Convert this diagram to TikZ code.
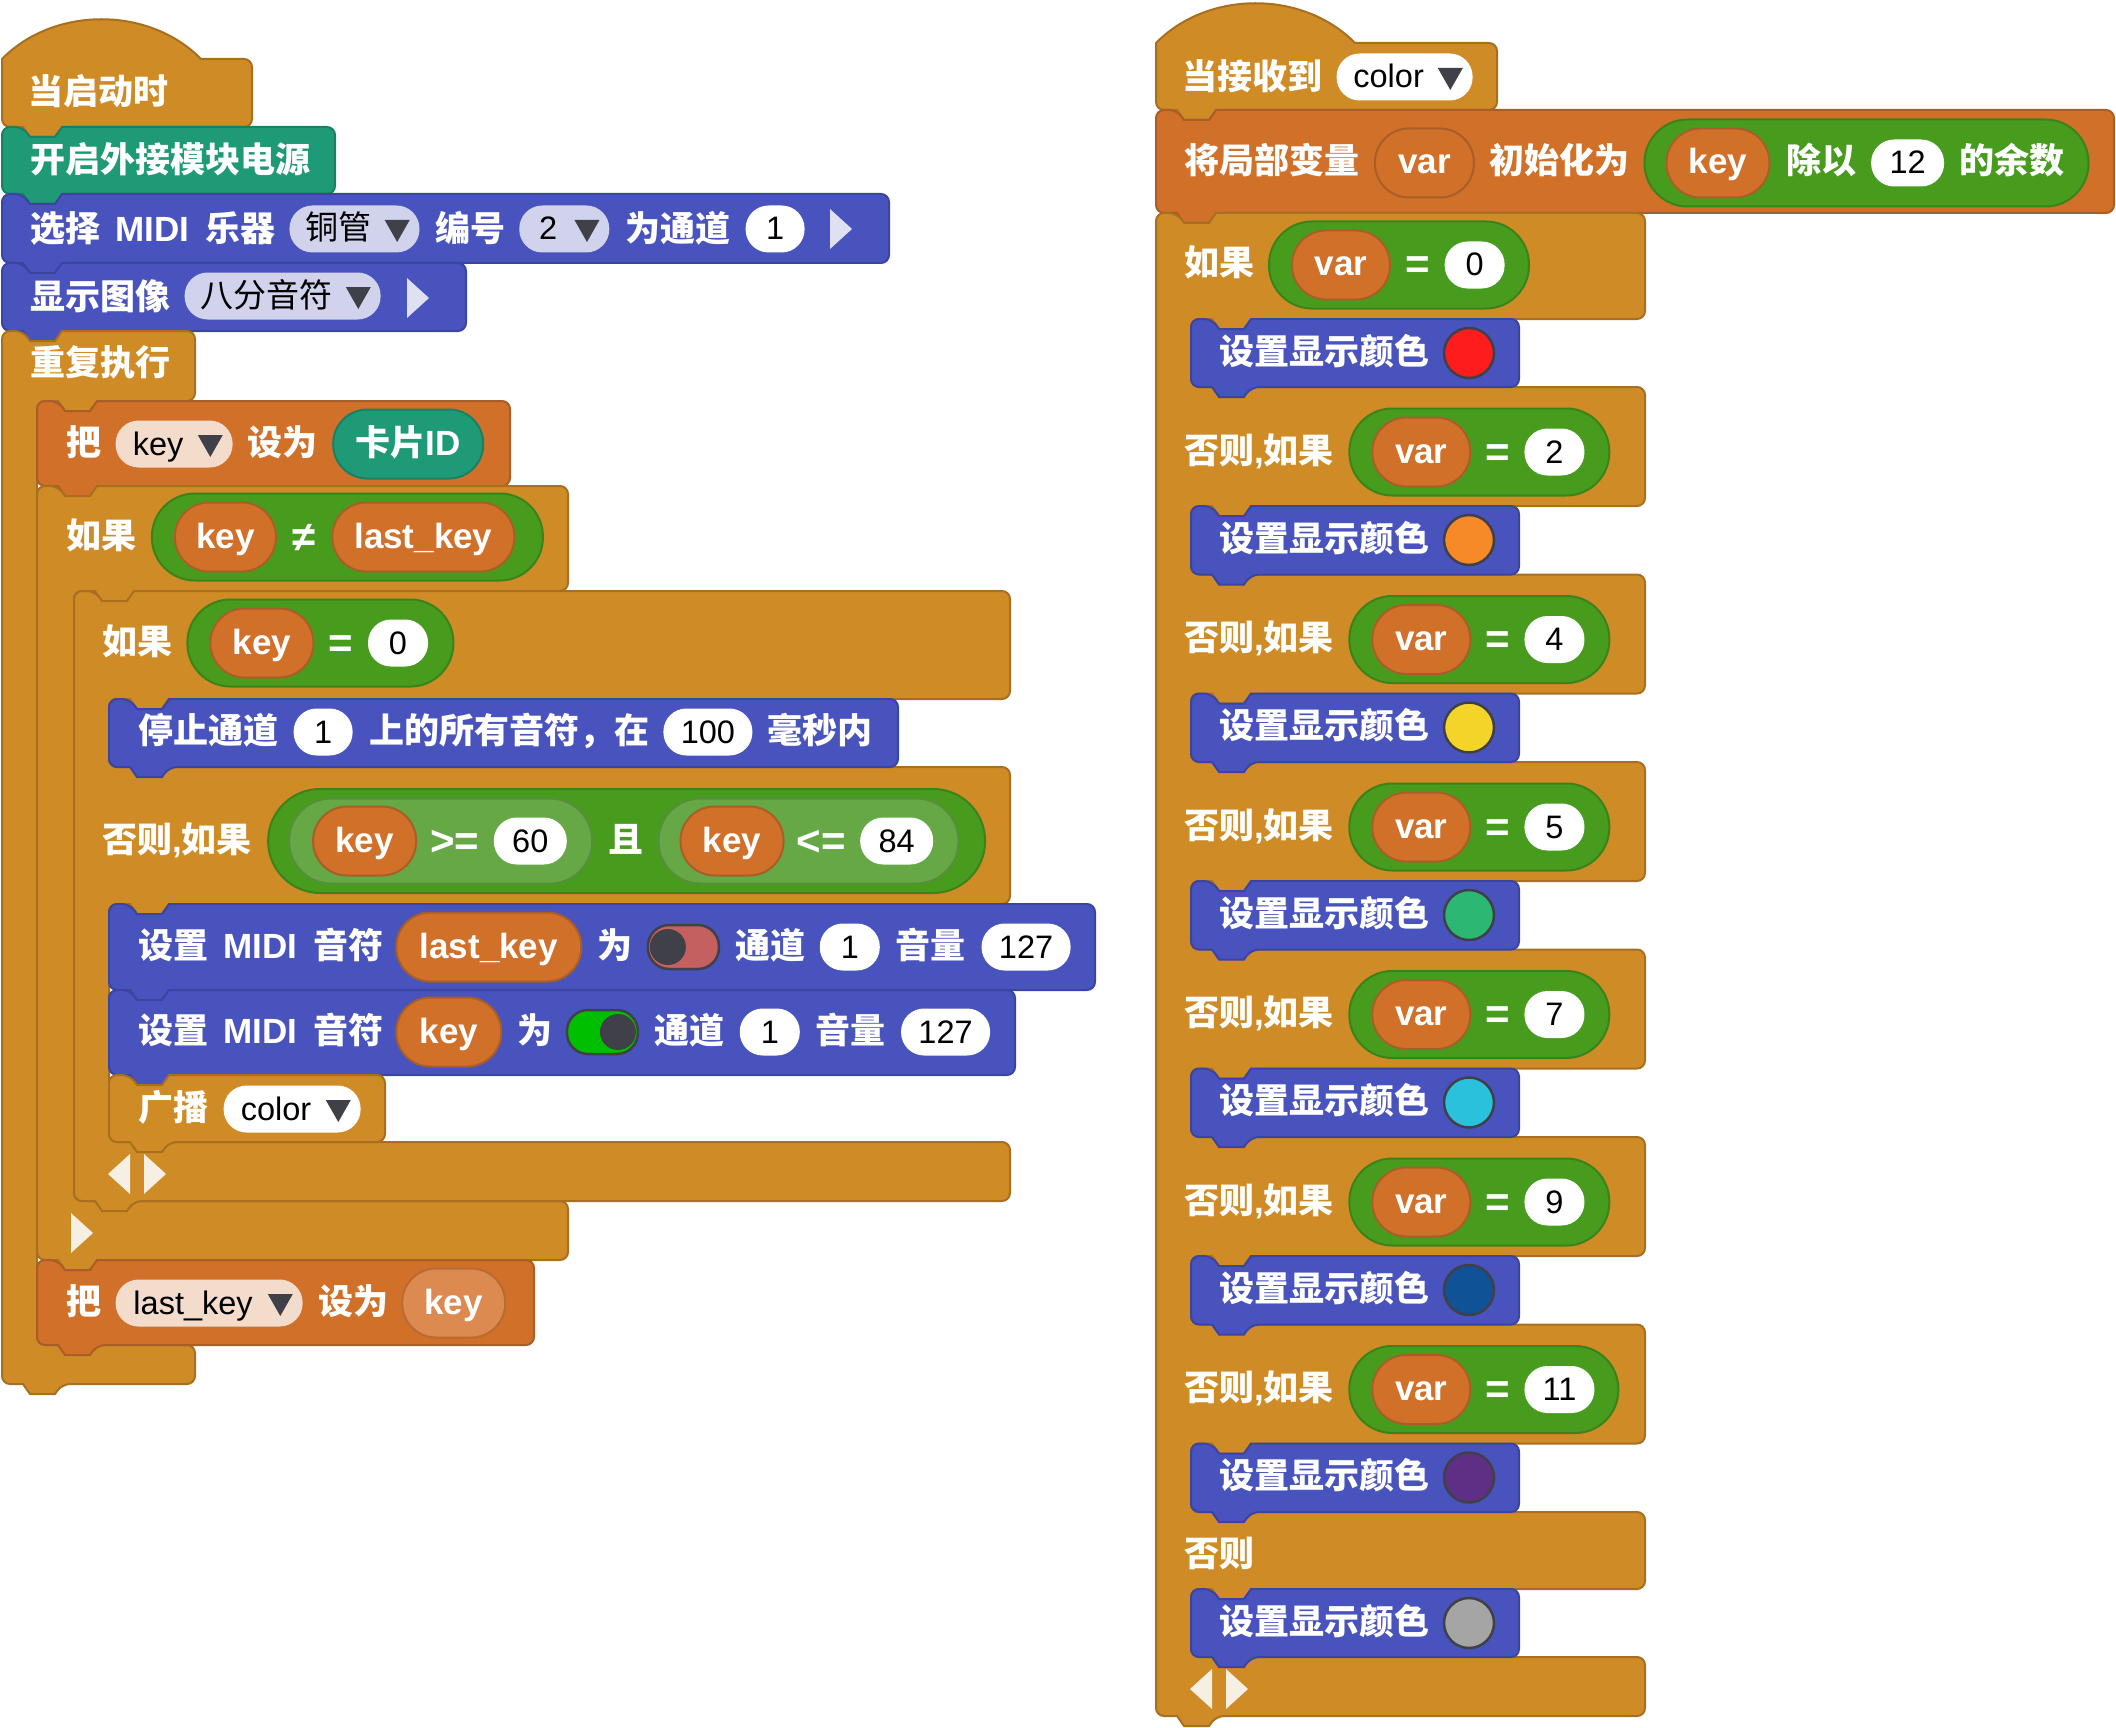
\documentclass[tikz,border=0pt]{standalone}
\usepackage{fontspec}
\usepackage{xcolor}
\usetikzlibrary{positioning}
\setmainfont{Liberation Sans}
\newfontfamily\cjkfont{Noto Sans CJK SC}

\definecolor{ctrlfill}{HTML}{CF8B25}
\definecolor{ctrlline}{HTML}{A96F20}
\definecolor{bluefill}{HTML}{4853BD}
\definecolor{blueline}{HTML}{3B44A0}
\definecolor{tealfill}{HTML}{1F9A77}
\definecolor{tealline}{HTML}{1A8065}
\definecolor{orgfill}{HTML}{D17029}
\definecolor{orgline}{HTML}{A85E26}
\definecolor{orgpale}{HTML}{DC8A4F}
\definecolor{boolfill}{HTML}{479C1E}
\definecolor{boolline}{HTML}{3C821A}
\definecolor{boolpale}{HTML}{65A845}
\definecolor{ddblue}{HTML}{D1D3EC}
\definecolor{ddorg}{HTML}{F4DCCC}
\definecolor{chevctrl}{HTML}{F6EFE3}
\definecolor{chevblue}{HTML}{DFE1F3}
\definecolor{darkpart}{HTML}{404048}
\definecolor{togoff}{HTML}{C46060}
\definecolor{togon}{HTML}{00BF00}
\definecolor{dotred}{HTML}{FF1C1C}
\definecolor{dotorange}{HTML}{F58A27}
\definecolor{dotyellow}{HTML}{F5D42A}
\definecolor{dotgreen}{HTML}{2CB872}
\definecolor{dotcyan}{HTML}{29C1DC}
\definecolor{dotblue}{HTML}{0F5296}
\definecolor{dotpurple}{HTML}{5F2F86}
\definecolor{dotgray}{HTML}{A5A5A5}

\newcommand{\boldfont}{\fontsize{35}{36}\selectfont\bfseries}
\newcommand{\regfont}{\fontsize{32.5}{36}\selectfont}
\newcommand{\lat}[1]{{\rmfamily #1}}
\newcommand{\midi}{\hspace{15.5pt}\lat{MIDI}\hspace{15.5pt}}
\newcommand{\ddgap}{\kern32pt\relax}

\newcommand{\topnotch}[2]{-- ({#1+21},#2) [sharp corners] -- ({#1+28},{#2+10}) -- ({#1+53},{#2+10}) -- ({#1+60},#2) [rounded corners=8pt]}
\newcommand{\botnotch}[2]{-- ({#1+60},#2) [sharp corners] -- ({#1+53},{#2+10}) -- ({#1+28},{#2+10}) -- ({#1+21},#2) [rounded corners=8pt]}
\newcommand{\armdown}[3]{-- (#1,#3) \botnotch{#2}{#3} -- (#2,#3)}
\newcommand{\armnext}[3]{-- (#2,#3) -- (#1,#3)}
\newcommand{\plainblock}[5]{\draw[#1] (#2,{#4+20}) [rounded corners=8pt] -- (#2,#4) \topnotch{#2}{#4} -- (#3,#4) -- (#3,#5) \botnotch{#2}{#5} -- (#2,#5) -- cycle;}
\newcommand{\hatblock}[5]{\draw[#1] (#2,#4) .. controls ({#2+52},{#4-53}) and ({#2+147},{#4-53}) .. ({#2+199},#4) [rounded corners=8pt] -- (#3,#4) -- (#3,#5) \botnotch{#2}{#5} -- (#2,#5) -- (#2,{#5-20}) [sharp corners] -- cycle;}
\newcommand{\ddtri}[2]{\fill[#1,shift={(#2.east)}] (-35,-9) -- (-10,-9) -- (-22.5,13) -- cycle;}
\newcommand{\chevr}[3]{\fill[#1] (#2,{#3-20}) -- ({#2+22},#3) -- (#2,{#3+20}) -- cycle;}
\newcommand{\chevl}[3]{\fill[#1] ({#2+22},{#3-20}) -- (#2,#3) -- ({#2+22},{#3+20}) -- cycle;}

\tikzset{
  ctrlb/.style={fill=ctrlfill,draw=ctrlline,line width=2pt},
  blueb/.style={fill=bluefill,draw=blueline,line width=2pt},
  tealb/.style={fill=tealfill,draw=tealline,line width=2pt},
  orgb/.style={fill=orgfill,draw=orgline,line width=2pt},
  txt/.style={inner sep=0pt,text=white,font=\boldfont\cjkfont,text height=27pt,text depth=5pt},
  optxt/.style={inner sep=0pt,text=white,font=\fontsize{42}{44}\selectfont\bfseries,text height=32pt,text depth=4pt},
  pill/.style={rectangle,inner sep=0pt,text height=27pt,text depth=5pt},
  numpill/.style={pill,fill=white,text=black,font=\regfont,minimum height=47pt,rounded corners=23pt},
  ddb/.style={numpill,fill=ddblue,font=\fontsize{33}{36}\selectfont\cjkfont},
  ddo/.style={numpill,fill=ddorg},
  varpill/.style={pill,fill=orgfill,draw=orgline,line width=2pt,text=white,font=\boldfont,minimum height=69pt,rounded corners=34pt},
  boolp/.style={pill,fill=boolfill,draw=boolline,line width=2pt,minimum height=87pt,rounded corners=43pt},
  toggle/.style={pill,draw=darkpart,line width=2.5pt,minimum width=71pt,minimum height=44pt,rounded corners=21pt},
  knob/.style={circle,inner sep=0pt,fill=darkpart,minimum size=36pt},
  dot/.style={circle,inner sep=0pt,draw=darkpart,line width=2.5pt,minimum size=50pt},
  tri/.style={fill=darkpart},
  chevc/.style={fill=chevctrl},
  chevb/.style={fill=chevblue}
}

\begin{document}
\begin{tikzpicture}[x=1pt,y=-1pt]
  \useasboundingbox (0,0) rectangle (2116,1728);

  % left stack
  \hatblock{ctrlb}{2}{252}{59}{127}
  \plainblock{tealb}{2}{335}{127}{194}
  \plainblock{blueb}{2}{889}{194}{263}
  \plainblock{blueb}{2}{466}{263}{331}
  \draw[ctrlb] (2,351) [rounded corners=8pt] -- (2,331) \topnotch{2}{331} -- (195,331) \armdown{195}{37}{401} \armnext{195}{37}{1345} -- (195,1384) \botnotch{2}{1384} -- (2,1384) -- cycle;
  \plainblock{orgb}{37}{510}{401}{486}
  \draw[ctrlb] (37,506) [rounded corners=8pt] -- (37,486) \topnotch{37}{486} -- (568,486) \armdown{568}{74}{591} \armnext{568}{74}{1201} -- (568,1260) \botnotch{37}{1260} -- (37,1260) -- cycle;
  \draw[ctrlb] (74,611) [rounded corners=8pt] -- (74,591) \topnotch{74}{591} -- (1010,591) \armdown{1010}{109}{699} \armnext{1010}{109}{767} \armdown{1010}{109}{904} \armnext{1010}{109}{1142} -- (1010,1201) \botnotch{74}{1201} -- (74,1201) -- cycle;
  \plainblock{blueb}{109}{898}{699}{767}
  \plainblock{blueb}{109}{1095}{904}{990}
  \plainblock{blueb}{109}{1015}{990}{1075}
  \plainblock{ctrlb}{109}{385}{1075}{1142}
  \plainblock{orgb}{37}{534}{1260}{1345}

  \node[txt,anchor=west] (start) at (28,94) {当启动时};
  \node[txt,anchor=west] (power) at (30,162) {开启外接模块电源};

  \node[txt,anchor=west] (sel) at (30,231) {选择\midi 乐器};
  \node[ddb,minimum width=130pt,right=14pt of sel,yshift=2pt] (inst) {铜管\ddgap};
  \node[txt,right=16pt of inst,yshift=-2pt] (numlab) {编号};
  \node[ddb,minimum width=90pt,right=13pt of numlab,font=\regfont,yshift=2pt] (instnum) {2\ddgap};
  \node[txt,right=16pt of instnum,yshift=-2pt] (chanlab) {为通道};
  \node[numpill,minimum width=59pt,right=14.5pt of chanlab,yshift=2pt] (chan) {1};
  \ddtri{tri}{inst}
  \ddtri{tri}{instnum}
  \chevr{chevb}{830}{229}

  \node[txt,anchor=west] (img) at (30,298) {显示图像};
  \node[ddb,minimum width=196pt,right=14pt of img,yshift=2pt] (imgval) {八分音符\ddgap};
  \ddtri{tri}{imgval}
  \chevr{chevb}{407}{298}

  \node[txt,anchor=west] (rep) at (30,364) {重复执行};

  \node[txt,anchor=west] (seta) at (66,444) {把};
  \node[ddo,minimum width=117pt,right=14pt of seta] (keydd) {key\ddgap};
  \node[txt,right=14pt of keydd] (setb) {设为};
  \node[pill,fill=tealfill,draw=tealline,line width=2pt,text=white,font=\boldfont\cjkfont,minimum width=150pt,minimum height=69pt,rounded corners=34pt,right=15pt of setb] (card) {卡片\lat{ID}};
  \ddtri{tri}{keydd}

  \node[txt,anchor=west] (ifa) at (66,537) {如果};
  \node[boolp,minimum width=391pt,right=14.5pt of ifa] (boola) {};
  \node[varpill,minimum width=101pt,right=23pt of boola.west] (keya) {key};
  \node[optxt,right=15pt of keya] (nea) {≠};
  \node[varpill,minimum width=182pt,right=16pt of nea] (lasta) {last\_key};

  \node[txt,anchor=west] (ifb) at (102,643) {如果};
  \node[boolp,minimum width=266pt,right=14pt of ifb] (boolb) {};
  \node[varpill,minimum width=103pt,right=23pt of boolb.west] (keyb) {key};
  \node[optxt,right=14pt of keyb] (eqb) {=};
  \node[numpill,minimum width=60pt,right=14.5pt of eqb] (zerob) {0};

  \node[txt,anchor=west] (stop) at (138,732) {停止通道};
  \node[numpill,minimum width=59pt,right=15pt of stop] (stopch) {1};
  \node[txt,right=16pt of stopch] (stopm) {上的所有音符，在};
  \node[numpill,minimum width=89pt,right=14pt of stopm] (stopt) {100};
  \node[txt,right=15pt of stopt] (stopu) {毫秒内};

  \node[txt,anchor=west] (elif) at (102,841) {否则\lat{,}如果};
  \node[boolp,minimum width=717pt,minimum height=104pt,rounded corners=52pt,right=15pt of elif] (boolc) {};
  \node[boolp,fill=boolpale,draw=boolpale!85!black,minimum width=303pt,minimum height=85pt,rounded corners=42pt,right=21pt of boolc.west] (lowp) {};
  \node[varpill,minimum width=103pt,right=24pt of lowp.west] (keyc) {key};
  \node[optxt,right=13pt of keyc] (gec) {>=};
  \node[numpill,minimum width=73pt,right=14pt of gec] (lowv) {60};
  \node[txt,right=15pt of lowp] (andc) {且};
  \node[boolp,fill=boolpale,draw=boolpale!85!black,minimum width=300pt,minimum height=85pt,rounded corners=42pt,right=14pt of andc] (highp) {};
  \node[varpill,minimum width=103pt,right=22pt of highp.west] (keyd) {key};
  \node[optxt,right=12pt of keyd] (led) {<=};
  \node[numpill,minimum width=73pt,right=14pt of led] (highv) {84};

  \node[txt,anchor=west] (noff) at (138,947) {设置\midi 音符};
  \node[varpill,minimum width=185pt,right=12pt of noff] (noffk) {last\_key};
  \node[txt,right=15pt of noffk] (noffw) {为};
  \node[toggle,fill=togoff,right=14pt of noffw] (offt) {};
  \node[knob,right=3pt of offt.west] (offk) {};
  \node[txt,right=15pt of offt] (noffc) {通道};
  \node[numpill,minimum width=60pt,right=14pt of noffc] (noffn) {1};
  \node[txt,right=15pt of noffn] (noffv) {音量};
  \node[numpill,minimum width=89pt,right=16pt of noffv] (noffl) {127};

  \node[txt,anchor=west] (non) at (138,1032) {设置\midi 音符};
  \node[varpill,minimum width=105pt,right=12pt of non] (nonk) {key};
  \node[txt,right=15pt of nonk] (nonw) {为};
  \node[toggle,fill=togon,right=13pt of nonw] (ont) {};
  \node[knob,left=3pt of ont.east] (onk) {};
  \node[txt,right=15pt of ont] (nonc) {通道};
  \node[numpill,minimum width=60pt,right=15pt of nonc] (nonn) {1};
  \node[txt,right=15.5pt of nonn] (nonv) {音量};
  \node[numpill,minimum width=89pt,right=15pt of nonv] (nonl) {127};

  \node[txt,anchor=west] (cast) at (138,1109) {广播};
  \node[numpill,minimum width=137pt,right=15pt of cast] (castm) {color\ddgap};
  \ddtri{tri}{castm}

  \chevl{chevc}{108}{1174}
  \chevr{chevc}{144}{1174}
  \chevr{chevc}{71}{1233}

  \node[txt,anchor=west] (setc) at (66,1303) {把};
  \node[ddo,minimum width=187pt,right=14pt of setc] (lastdd) {last\_key\ddgap};
  \node[txt,right=15pt of lastdd] (setd) {设为};
  \node[varpill,fill=orgpale,draw=orgline!70!orgpale,minimum width=103pt,right=13pt of setd] (keye) {key};
  \ddtri{tri}{lastdd}

  % right stack
  \hatblock{ctrlb}{1156}{1497}{43}{110}
  \plainblock{orgb}{1156}{2114}{110}{213}
  \draw[ctrlb] (1156,233) [rounded corners=8pt] -- (1156,213) \topnotch{1156}{213} -- (1645,213) \armdown{1645}{1191}{319}
    \armnext{1645}{1191}{387} \armdown{1645}{1191}{506}
    \armnext{1645}{1191}{574.5} \armdown{1645}{1191}{693.5}
    \armnext{1645}{1191}{762} \armdown{1645}{1191}{881}
    \armnext{1645}{1191}{949.5} \armdown{1645}{1191}{1068.5}
    \armnext{1645}{1191}{1137} \armdown{1645}{1191}{1256}
    \armnext{1645}{1191}{1324.5} \armdown{1645}{1191}{1443.5}
    \armnext{1645}{1191}{1512} \armdown{1645}{1191}{1589}
    \armnext{1645}{1191}{1657} -- (1645,1716) \botnotch{1156}{1716} -- (1156,1716) -- cycle;

  \node[txt,anchor=west] (recv) at (1182,79) {当接收到};
  \node[numpill,minimum width=136pt,right=14pt of recv,yshift=2pt] (recvm) {color\ddgap};
  \ddtri{tri}{recvm}

  \node[txt,anchor=west] (init) at (1184,163) {将局部变量};
  \node[varpill,minimum width=99pt,right=14.5pt of init] (initv) {var};
  \node[txt,right=14.5pt of initv] (initm) {初始化为};
  \node[boolp,minimum width=444pt,right=13.7pt of initm] (initb) {};
  \node[varpill,minimum width=103pt,right=22pt of initb.west] (initk) {key};
  \node[txt,right=16pt of initk] (initd) {除以};
  \node[numpill,minimum width=73pt,right=14pt of initd] (initn) {12};
  \node[txt,right=15pt of initn] (initr) {的余数};

  \node[txt,anchor=west] (first) at (1184,265) {如果};
  \node[boolp,minimum width=260pt,right=13.6pt of first] (firstb) {};
  \node[varpill,minimum width=98pt,right=23pt of firstb.west] (firstv) {var};
  \node[optxt,right=14pt of firstv] (firste) {=};
  \node[numpill,minimum width=60pt,right=14.5pt of firste] (firstn) {0};
  \plainblock{blueb}{1191}{1519}{319}{387}
  \node[txt,anchor=west] (firsts) at (1219,353) {设置显示颜色};
  \node[dot,fill=dotred] (firstd) at (1469,353) {};

  \foreach \k/\val/\bw/\nw/\col in {0/2/260/60/dotorange,1/4/260/60/dotyellow,2/5/260/60/dotgreen,3/7/260/60/dotcyan,4/9/260/60/dotblue,5/11/269/70/dotpurple}{
    \pgfmathsetmacro{\ty}{387+187.5*\k}
    \node[txt,anchor=west] (e\k) at (1184,\ty+65) {否则\lat{,}如果};
    \node[boolp,minimum width=\bw pt,right=14.2pt of e\k] (eb\k) {};
    \node[varpill,minimum width=98pt,right=23pt of eb\k.west] (ev\k) {var};
    \node[optxt,right=14pt of ev\k] (eq\k) {=};
    \node[numpill,minimum width=\nw pt,right=14pt of eq\k] (en\k) {\val};
    \plainblock{blueb}{1191}{1519}{\ty+119}{\ty+187.5}
    \node[txt,anchor=west] (es\k) at (1219,\ty+153) {设置显示颜色};
    \node[dot,fill=\col] (ed\k) at (1469,\ty+153) {};
  }

  \node[txt,anchor=west] (other) at (1184,1555) {否则};
  \plainblock{blueb}{1191}{1519}{1589}{1657}
  \node[txt,anchor=west] (others) at (1219,1623) {设置显示颜色};
  \node[dot,fill=dotgray] (otherd) at (1469,1623) {};
  \chevl{chevc}{1190}{1689}
  \chevr{chevc}{1226}{1689}
\end{tikzpicture}
\end{document}
